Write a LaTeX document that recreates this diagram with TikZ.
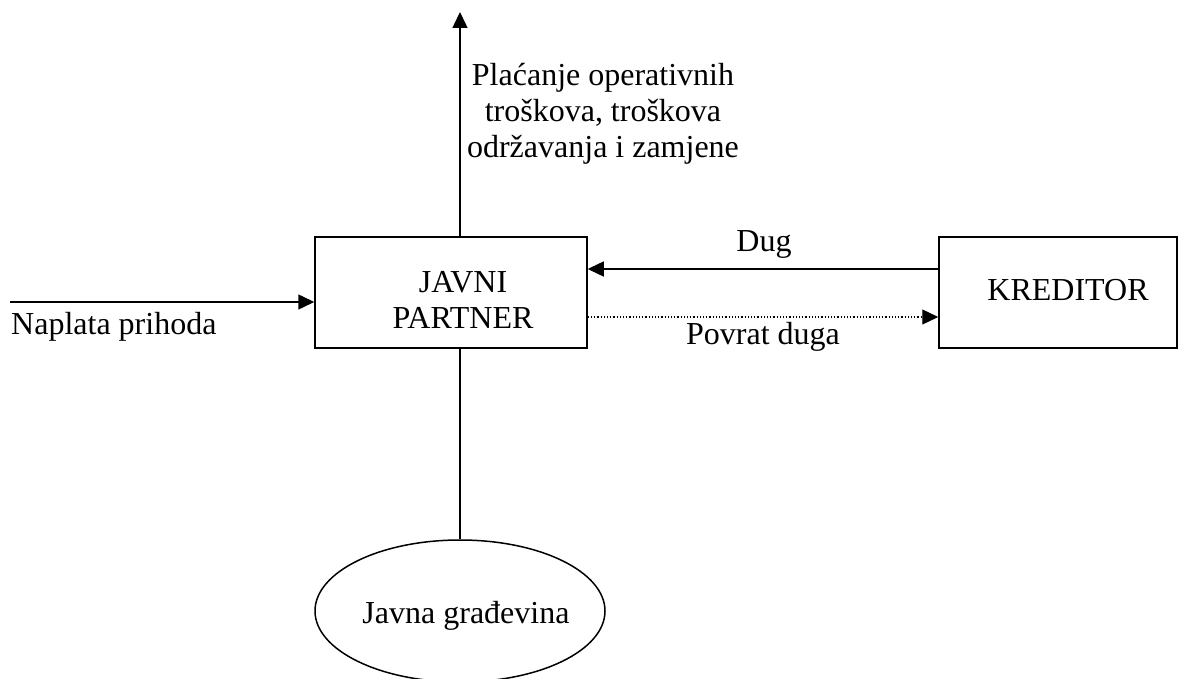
\documentclass[tikz,border=0pt]{standalone}
\usepackage{fontspec}
\setmainfont{Liberation Serif}
\usetikzlibrary{arrows.meta,shapes.geometric}
\begin{document}
\begin{tikzpicture}[x=1pt,y=-1pt,
  every node/.style={font=\fontsize{32}{36}\selectfont},
  boxnode/.style={draw,line width=1.5pt,inner sep=0pt},
  conn/.style={line width=1.5pt,-{Triangle[length=16pt,width=15pt]}},
  plain/.style={line width=1.5pt},
  dotconn/.style={line width=1.2pt,dotted,-{Triangle[length=16pt,width=15pt]}},
  lbl/.style={inner sep=0pt,align=center}]
\useasboundingbox (0,0) rectangle (1195,679);
\node[boxnode,minimum width=272pt,minimum height=111pt] (jp) at (451,292.5) {};
\node[lbl] (jpt) at (463,300) {JAVNI\\PARTNER};
\node[boxnode,minimum width=238pt,minimum height=111pt] (kr) at (1058,292.5) {};
\node[lbl] (krt) at (1068,290) {KREDITOR};
\node[draw,ellipse,line width=1.5pt,minimum width=290pt,minimum height=142pt,inner sep=0pt] (jg) at (460,611) {};
\node[lbl] (jgt) at (466,616) {Javna građevina};
\coordinate (vx) at (460,0);
\coordinate (top) at (460,12);
\coordinate (left) at (10,302);
\draw[conn] (jp.north -| vx) -- (top);
\draw[plain] (jp.south -| vx) -- (jg.north);
\draw[conn] (left) -- (left -| jp.west);
\draw[conn] (kr.west |- 0,269) -- (jp.east |- 0,269);
\draw[dotconn] (jp.east |- 0,317) -- (kr.west |- 0,317);
\node[lbl] (t1) at (603,114) {Plaćanje operativnih\\troškova, troškova\\održavanja i zamjene};
\node[lbl] (t2) at (764,244) {Dug};
\node[lbl] (t3) at (763,337) {Povrat duga};
\node[lbl,anchor=west] (t4) at (11,327) {Naplata prihoda};
\end{tikzpicture}
\end{document}
